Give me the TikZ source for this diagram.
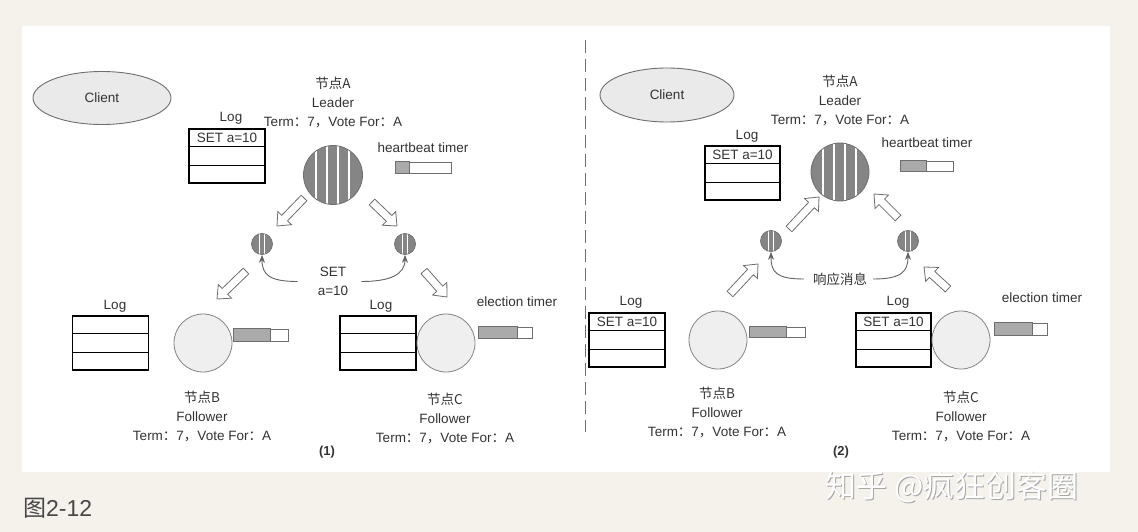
\documentclass[tikz,border=0pt]{standalone}
\usepackage{fontspec}
\setmainfont{Liberation Sans}
\newfontfamily\cjk{Noto Sans CJK SC}
\usetikzlibrary{arrows.meta,calc,shapes.geometric}
\definecolor{fondoP}{HTML}{F5F2EC}
\definecolor{negroP}{HTML}{333333}
\definecolor{grisB}{HTML}{6E6E6E}
\definecolor{grisL}{HTML}{858585}
\definecolor{grisC}{HTML}{EFEFEF}
\definecolor{grisT}{HTML}{AAAAAA}
\definecolor{grisE}{HTML}{EAEAEA}

\newcommand\termline{Term{\cjk ：}7{\cjk ，}Vote For{\cjk ：}A}
\newcommand\fatarrow[2]{%
  \coordinate (fa) at ($(#2)!11pt!(#1)$);
  \draw[fatline] ($(#1)!4pt!90:(#2)$) -- ($(fa)!4pt!-90:(#1)$)
    -- ($(fa)!9.5pt!-90:(#1)$) -- (#2) -- ($(fa)!9.5pt!90:(#1)$)
    -- ($(fa)!4pt!90:(#1)$) -- ($(#1)!4pt!-90:(#2)$) -- cycle;}

\tikzset{
  lbl/.style={font=\fontsize{13.5}{19}\selectfont,text=negroP,align=center,inner sep=0pt},
  clientnode/.style={ellipse,draw=grisB,fill=grisE,line width=.9pt,
    minimum width=138pt,minimum height=53pt,inner sep=0pt},
  leaderball/.style={circle,draw=grisB,fill=grisL,line width=.8pt,minimum size=59pt,inner sep=0pt,
    path picture={\foreach \dx in {-17,-6,5,16}
      \draw[white,line width=1.1pt] ([xshift=\dx pt]path picture bounding box.north)
        -- ([xshift=\dx pt]path picture bounding box.south);}},
  msgball/.style={circle,draw=grisB,fill=grisL,line width=.7pt,minimum size=21pt,inner sep=0pt,
    path picture={\foreach \dx in {-2.5,2.5}
      \draw[white,line width=1pt] ([xshift=\dx pt]path picture bounding box.north)
        -- ([xshift=\dx pt]path picture bounding box.south);}},
  follower/.style={circle,draw=grisB!85,fill=grisC,line width=.8pt,minimum size=58pt,inner sep=0pt},
  logbox/.style={draw=black,line width=1.1pt,minimum width=76pt,minimum height=54pt,inner sep=0pt},
  timerbar/.style={draw=grisB,fill=white,line width=.7pt,minimum width=54pt,minimum height=11pt,inner sep=0pt},
  fatline/.style={draw=grisB,fill=white,line width=.8pt,line join=miter},
  curvearrow/.style={draw=grisB!90!black,line width=.9pt,-{Stealth[length=8pt,width=6pt]}},
}

\begin{document}
\begin{tikzpicture}[x=1pt,y=-1pt]
  \useasboundingbox (0,0) rectangle (1138,532);
  \fill[fondoP] (0,0) rectangle (1138,532);
  \fill[white] (22,26) rectangle (1110,472);

  % (1) leader sends SET a=10
  \node[clientnode,lbl] (client1) at (102,98) {Client};
  \node[lbl] (lblA1) at (333,103) {{\cjk 节点A}\\Leader\\\termline};
  \node[lbl] (logLblA1) at (231,118) {Log};
  \node[logbox] (logA1) at (227,156) {};
  \node[lbl] (setA1) at ($(logA1.north)!1/6!(logA1.south)$) {SET a=10};
  \node[leaderball] (leaderA1) at (333,175) {};
  \node[lbl] (hbLbl1) at (423,148) {heartbeat timer};
  \node[timerbar,minimum width=55pt] (hbBar1) at (423.5,167.5) {};
  \draw[grisB,fill=grisT,line width=.7pt] (hbBar1.north west) rectangle ($(hbBar1.south west)!.24!(hbBar1.south east)$);
  \node[msgball] (msgB1) at (262,244) {};
  \node[msgball] (msgC1) at (405,244) {};
  \coordinate (a1t) at (304,198); \coordinate (a1h) at (277,226);
  \coordinate (a2t) at (372,202); \coordinate (a2h) at (397,226);
  \coordinate (a3t) at (246,271); \coordinate (a3h) at (217,299);
  \coordinate (a4t) at (424,271); \coordinate (a4h) at (447,297);
  \fatarrow{a1t}{a1h} \fatarrow{a2t}{a2h} \fatarrow{a3t}{a3h} \fatarrow{a4t}{a4h}
  \node[lbl] (setMsg1) at (333,281.5) {SET\\a=10};
  \draw[curvearrow] ([xshift=-20pt]setMsg1.west) .. controls +(-28,0) and +(0,20) .. (msgB1.south);
  \draw[curvearrow] ([xshift=13pt]setMsg1.east) .. controls +(28,0) and +(0,20) .. (msgC1.south);

  \node[lbl] (logLblB1) at (115,306) {Log};
  \node[logbox] (logB1) at (110.5,343) {};
  \node[follower] (follB1) at (203,343) {};
  \node[timerbar,minimum height=12pt] (tmB1) at (261,335) {};
  \draw[grisB,fill=grisT,line width=.7pt] (tmB1.north west) rectangle ($(tmB1.south west)!.67!(tmB1.south east)$);
  \node[lbl] (lblB1) at (202,417) {{\cjk 节点B}\\Follower\\\termline};

  \node[lbl] (logLblC1) at (381,306) {Log};
  \node[logbox] (logC1) at (378,343) {};
  \node[follower] (follC1) at (446,343) {};
  \node[lbl] (elLbl1) at (517,302) {election timer};
  \node[timerbar,minimum width=53pt] (tmC1) at (505.5,332.5) {};
  \draw[grisB,fill=grisT,line width=.7pt] (tmC1.north west) rectangle ($(tmC1.south west)!.72!(tmC1.south east)$);
  \node[lbl] (lblC1) at (445,419) {{\cjk 节点C}\\Follower\\\termline};
  \node[lbl,font=\fontsize{13}{15}\selectfont\bfseries] (num1) at (327,452) {(1)};

  \draw[grisB,line width=.9pt,dash pattern=on 13pt off 6pt] (585,40) -- (585,432);

  % (2) followers answer
  \node[clientnode,lbl,minimum width=134pt,minimum height=54pt] (client2) at (667,95) {Client};
  \node[lbl] (lblA2) at (840,101) {{\cjk 节点A}\\Leader\\\termline};
  \node[lbl] (logLblA2) at (747,136) {Log};
  \node[logbox,minimum width=75pt] (logA2) at (742.5,173) {};
  \node[lbl] (setA2) at ($(logA2.north)!1/6!(logA2.south)$) {SET a=10};
  \node[leaderball,minimum size=58pt] (leaderA2) at (840,172) {};
  \node[lbl] (hbLbl2) at (927,143) {heartbeat timer};
  \node[timerbar,minimum width=52pt,minimum height=10pt] (hbBar2) at (927,166) {};
  \draw[grisB,fill=grisT,line width=.7pt] (hbBar2.north west) rectangle ($(hbBar2.south west)!.48!(hbBar2.south east)$);
  \node[msgball] (msgB2) at (771,241) {};
  \node[msgball] (msgC2) at (908,241) {};
  \coordinate (b1t) at (789,229); \coordinate (b1h) at (819,197);
  \coordinate (b2t) at (898,218); \coordinate (b2h) at (874,194);
  \coordinate (b3t) at (730,294); \coordinate (b3h) at (758,264);
  \coordinate (b4t) at (948,289); \coordinate (b4h) at (924,267);
  \fatarrow{b1t}{b1h} \fatarrow{b2t}{b2h} \fatarrow{b3t}{b3h} \fatarrow{b4t}{b4h}
  \node[lbl] (respMsg) at (840,279) {\cjk 响应消息};
  \draw[curvearrow] ([xshift=-9pt]respMsg.west) .. controls +(-28,0) and +(0,20) .. (msgB2.south);
  \draw[curvearrow] ([xshift=6pt]respMsg.east) .. controls +(28,0) and +(0,20) .. (msgC2.south);

  \node[lbl] (logLblB2) at (631,302) {Log};
  \node[logbox] (logB2) at (627,340) {};
  \node[lbl] (setB2) at ($(logB2.north)!1/6!(logB2.south)$) {SET a=10};
  \node[follower] (follB2) at (718,340) {};
  \node[timerbar,minimum width=55pt,minimum height=10pt] (tmB2) at (777.5,332) {};
  \draw[grisB,fill=grisT,line width=.7pt] (tmB2.north west) rectangle ($(tmB2.south west)!.65!(tmB2.south east)$);
  \node[lbl] (lblB2) at (717,413) {{\cjk 节点B}\\Follower\\\termline};

  \node[lbl] (logLblC2) at (898,302) {Log};
  \node[logbox,minimum width=75pt] (logC2) at (893.5,340) {};
  \node[lbl] (setC2) at ($(logC2.north)!1/6!(logC2.south)$) {SET a=10};
  \node[follower] (follC2) at (961,340) {};
  \node[lbl] (elLbl2) at (1042,298) {election timer};
  \node[timerbar,minimum width=52pt,minimum height=12pt] (tmC2) at (1021,329) {};
  \draw[grisB,fill=grisT,line width=.7pt] (tmC2.north west) rectangle ($(tmC2.south west)!.71!(tmC2.south east)$);
  \node[lbl] (lblC2) at (961,417) {{\cjk 节点C}\\Follower\\\termline};
  \node[lbl,font=\fontsize{13}{15}\selectfont\bfseries] (num2) at (841,452) {(2)};

  % rows of the logs
  \foreach \lg in {logA1,logB1,logC1,logA2,logB2,logC2}
    \foreach \k in {1,2}
      \draw[line width=1.1pt] ($(\lg.north west)!\k/3!(\lg.south west)$) -- ($(\lg.north east)!\k/3!(\lg.south east)$);

  % caption and mark
  \node[anchor=west,inner sep=0pt,text=negroP!90,font=\fontsize{23}{26}\selectfont] (caption) at (23,508) {{\cjk 图}2-12};
  \node[anchor=west,inner sep=0pt,text=gray!70,font=\fontsize{31}{34}\cjk] (markS) at (826.5,488.5) {知乎 @疯狂创客圈};
  \node[anchor=west,inner sep=0pt,text=white,font=\fontsize{31}{34}\cjk] (mark) at (825,487) {知乎 @疯狂创客圈};
\end{tikzpicture}
\end{document}
